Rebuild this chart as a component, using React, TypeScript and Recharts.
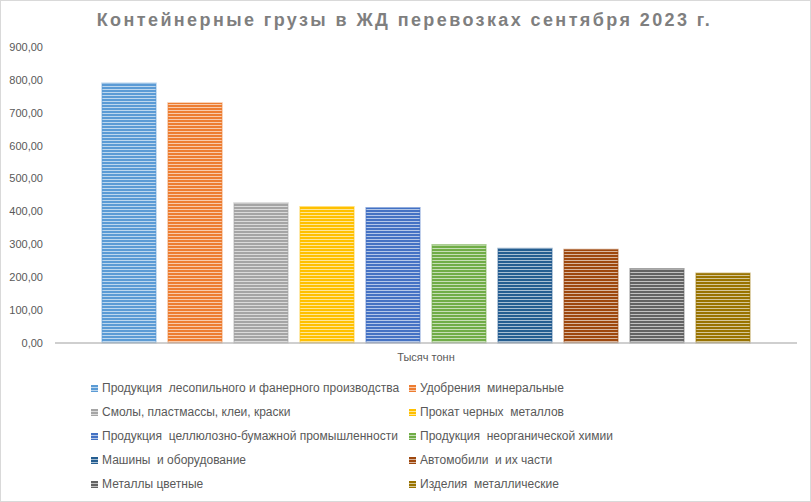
import React from "react";
import { Bar, BarChart, XAxis, YAxis } from "recharts";

const category = "Тысяч тонн";

const seriesNames = [
  "Продукция  лесопильного и фанерного производства",
  "Удобрения  минеральные",
  "Смолы, пластмассы, клеи, краски",
  "Прокат черных  металлов",
  "Продукция  целлюлозно-бумажной промышленности",
  "Продукция  неорганической химии",
  "Машины  и оборудование",
  "Автомобили  и их части",
  "Металлы цветные",
  "Изделия  металлические",
];

const seriesValues = [790, 730, 426, 414, 411, 299, 287, 284, 226, 212];

const seriesColors = [
  "#5B9BD5",
  "#ED7D31",
  "#A5A5A5",
  "#FFC000",
  "#4472C4",
  "#70AD47",
  "#255E91",
  "#9E480E",
  "#636363",
  "#997300",
];

const yTicks = [0, 100, 200, 300, 400, 500, 600, 700, 800, 900];

const row: Record<string, string | number> = { name: category };
seriesValues.forEach((v, i) => {
  row[`s${i}`] = v;
});
const data = [row];

const formatTick = (v: number) => v.toFixed(2).replace(".", ",");

const font = "'Liberation Sans', Arial, sans-serif";

const StripeDefs = ({ prefix }: { prefix: string }) => (
  <defs>
    {seriesColors.map((c, i) => (
      <pattern
        key={i}
        id={`${prefix}${i}`}
        patternUnits="userSpaceOnUse"
        width={6}
        height={3}
      >
        <rect width={6} height={3} fill={c} />
        <rect y={2} width={6} height={1} fill="#ffffff" fillOpacity={0.6} />
      </pattern>
    ))}
  </defs>
);

const LegendBlock = () => (
  <div
    style={{
      position: "absolute",
      left: 90,
      top: 379,
      display: "grid",
      gridTemplateColumns: "318px 300px",
      rowGap: 8,
      fontFamily: font,
      fontSize: 12,
      color: "#595959",
    }}
  >
    {seriesNames.map((name, i) => (
      <div
        key={name}
        style={{ display: "flex", alignItems: "center", height: 16, whiteSpace: "pre" }}
      >
        <svg width={7} height={7} style={{ marginRight: 4 }}>
          <StripeDefs prefix={`lg${i}-`} />
          <rect width={7} height={7} fill={`url(#lg${i}-${i})`} />
        </svg>
        {name}
      </div>
    ))}
  </div>
);

export default function App() {
  return (
    <div
      style={{
        position: "absolute",
        left: 0,
        top: 0,
        width: 811,
        height: 502,
        border: "1px solid #D9D9D9",
        boxSizing: "border-box",
        background: "#fff",
        overflow: "hidden",
      }}
    >
      <div
        style={{
          position: "absolute",
          left: 0,
          width: 807,
          top: 9,
          textAlign: "center",
          fontFamily: font,
          fontWeight: "bold",
          fontSize: 18,
          letterSpacing: 2.4,
          color: "#7F7F7F",
        }}
      >
        Контейнерные грузы в ЖД перевозках сентября 2023 г.
      </div>
      <div style={{ position: "absolute", left: -2, top: -1 }}>
        <BarChart
          width={811}
          height={502}
          data={data}
          margin={{ top: 47, right: 13, bottom: 129, left: 0 }}
          barSize={54}
          barGap={12}
        >
          <StripeDefs prefix="bar" />
          <XAxis
            dataKey="name"
            axisLine={{ stroke: "#BFBFBF", strokeWidth: 1.5 }}
            tickLine={false}
            height={30}
            tickMargin={4}
            tick={{ fill: "#595959", fontSize: 11, fontFamily: font }}
          />
          <YAxis
            domain={[0, 900]}
            ticks={yTicks}
            interval={0}
            width={56}
            axisLine={false}
            tickLine={false}
            tickMargin={6}
            tickFormatter={formatTick}
            tick={{ fill: "#595959", fontSize: 11, fontFamily: font }}
          />
          {seriesNames.map((name, i) => (
            <Bar
              key={name}
              dataKey={`s${i}`}
              name={name}
              fill={`url(#bar${i})`}
              stroke={seriesColors[i]}
              strokeOpacity={0.45}
              strokeWidth={1.5}
              isAnimationActive={false}
            />
          ))}
        </BarChart>
      </div>
      <LegendBlock />
    </div>
  );
}
